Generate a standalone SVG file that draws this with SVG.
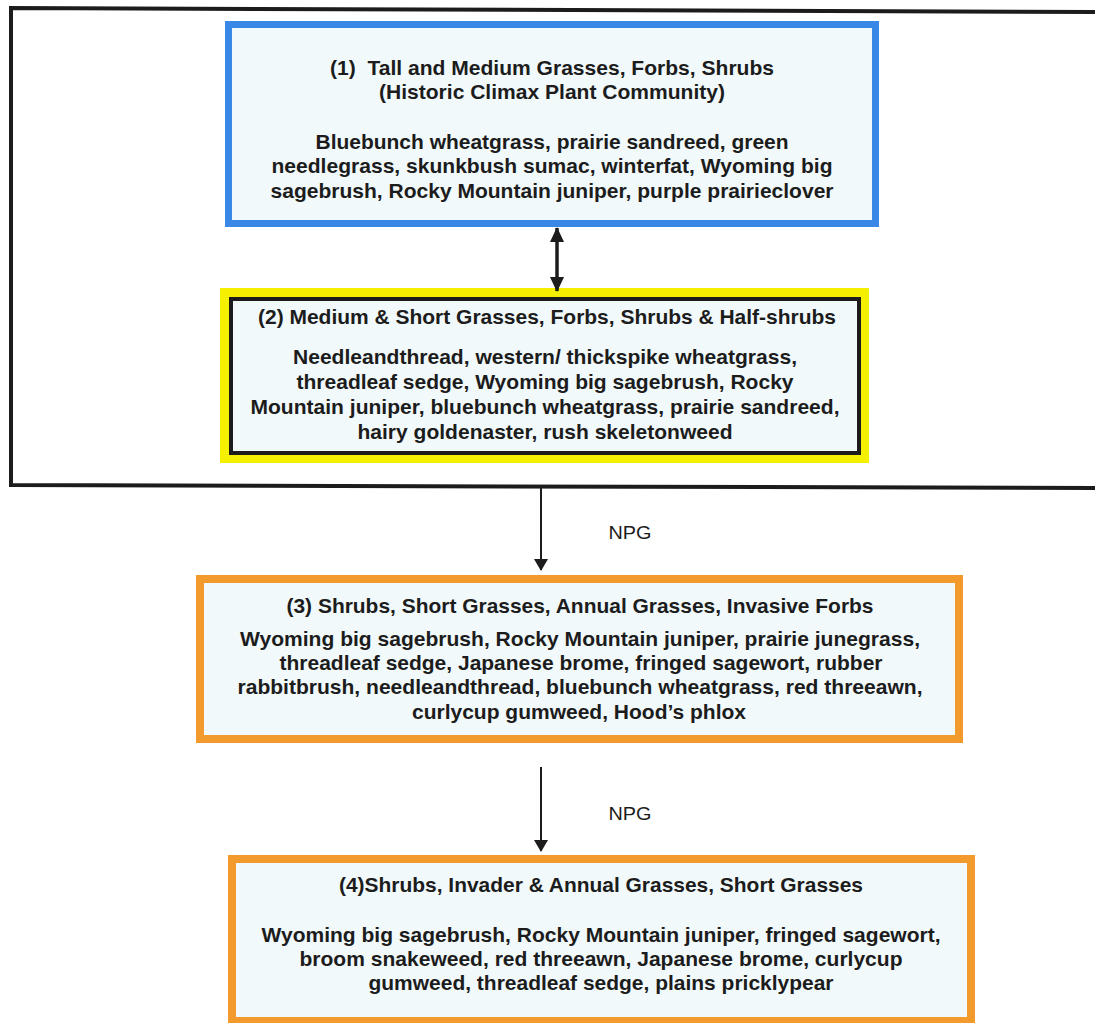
<svg xmlns="http://www.w3.org/2000/svg" width="1095" height="1023" viewBox="0 0 1095 1023">
<style>
.t{font-family:"Liberation Sans",Arial,sans-serif;font-weight:bold;font-size:20.5px;fill:#1c1c1c;text-anchor:middle}
.lbl{font-family:"Liberation Sans",Arial,sans-serif;font-size:18.5px;fill:#1c1c1c;text-anchor:middle}
.fill{fill:#f1f9fb}
.conn{stroke:#1c1c1c;fill:none}
</style>
<defs>
<marker id="ah" viewBox="0 0 12 14" refX="11" refY="7" markerWidth="12" markerHeight="14" markerUnits="userSpaceOnUse" orient="auto-start-reverse">
<path d="M0,0 L12,7 L0,14 Z" fill="#1c1c1c"/>
</marker>
<marker id="ah2" viewBox="0 0 15 14" refX="14" refY="7" markerWidth="15" markerHeight="14" markerUnits="userSpaceOnUse" orient="auto-start-reverse">
<path d="M0,0 L15,7 L0,14 Z" fill="#1c1c1c"/>
</marker>
</defs>
<rect width="1095" height="1023" fill="#ffffff"/>
<g id="frame">
<path d="M1095,12 L11,8 L11,485 L1095,488" fill="none" stroke="#1c1c1c" stroke-width="4"/>
</g>
<g id="node1">
<rect x="228.5" y="24.5" width="647" height="199" class="fill" stroke="#3a88e6" stroke-width="7"/>
<text class="t" x="552" y="75" textLength="444" lengthAdjust="spacingAndGlyphs" xml:space="preserve">(1)  Tall and Medium Grasses, Forbs, Shrubs</text>
<text class="t" x="552" y="99" textLength="346" lengthAdjust="spacingAndGlyphs">(Historic Climax Plant Community)</text>
<text class="t" x="552" y="149" textLength="473" lengthAdjust="spacingAndGlyphs">Bluebunch wheatgrass, prairie sandreed, green</text>
<text class="t" x="552" y="173" textLength="561" lengthAdjust="spacingAndGlyphs">needlegrass, skunkbush sumac, winterfat, Wyoming big</text>
<text class="t" x="552" y="198" textLength="563" lengthAdjust="spacingAndGlyphs">sagebrush, Rocky Mountain juniper, purple prairieclover</text>
</g>
<g id="node2">
<rect x="220" y="288" width="649" height="175" fill="#f5f000"/>
<rect x="231" y="299" width="628" height="154" class="fill" stroke="#1c1c1c" stroke-width="4"/>
<text class="t" x="547" y="324" textLength="578" lengthAdjust="spacingAndGlyphs">(2) Medium &amp; Short Grasses, Forbs, Shrubs &amp; Half-shrubs</text>
<text class="t" x="545" y="364" textLength="504" lengthAdjust="spacingAndGlyphs">Needleandthread, western/ thickspike wheatgrass,</text>
<text class="t" x="545" y="389" textLength="497" lengthAdjust="spacingAndGlyphs">threadleaf sedge, Wyoming big sagebrush, Rocky</text>
<text class="t" x="545" y="414" textLength="589" lengthAdjust="spacingAndGlyphs">Mountain juniper, bluebunch wheatgrass, prairie sandreed,</text>
<text class="t" x="545" y="439" textLength="375" lengthAdjust="spacingAndGlyphs">hairy goldenaster, rush skeletonweed</text>
</g>
<g id="node3">
<rect x="200" y="579" width="759" height="160" class="fill" stroke="#f39a2c" stroke-width="8"/>
<text class="t" x="580" y="613" textLength="587" lengthAdjust="spacingAndGlyphs">(3) Shrubs, Short Grasses, Annual Grasses, Invasive Forbs</text>
<text class="t" x="580" y="646" textLength="680" lengthAdjust="spacingAndGlyphs">Wyoming big sagebrush, Rocky Mountain juniper, prairie junegrass,</text>
<text class="t" x="581" y="670" textLength="603" lengthAdjust="spacingAndGlyphs">threadleaf sedge, Japanese brome, fringed sagewort, rubber</text>
<text class="t" x="580" y="694" textLength="685" lengthAdjust="spacingAndGlyphs">rabbitbrush, needleandthread, bluebunch wheatgrass, red threeawn,</text>
<text class="t" x="579" y="719" textLength="334" lengthAdjust="spacingAndGlyphs">curlycup gumweed, Hood’s phlox</text>
</g>
<g id="node4">
<rect x="232" y="859" width="739" height="162" class="fill" stroke="#f39a2c" stroke-width="8"/>
<text class="t" x="601" y="892" textLength="524" lengthAdjust="spacingAndGlyphs">(4)Shrubs, Invader &amp; Annual Grasses, Short Grasses</text>
<text class="t" x="601" y="942" textLength="679" lengthAdjust="spacingAndGlyphs">Wyoming big sagebrush, Rocky Mountain juniper, fringed sagewort,</text>
<text class="t" x="601" y="966" textLength="603" lengthAdjust="spacingAndGlyphs">broom snakeweed, red threeawn, Japanese brome, curlycup</text>
<text class="t" x="601" y="990" textLength="465" lengthAdjust="spacingAndGlyphs">gumweed, threadleaf sedge, plains pricklypear</text>
</g>
<g id="connectors">
<line class="conn" x1="557" y1="228" x2="557" y2="291" stroke-width="3.5" marker-start="url(#ah2)" marker-end="url(#ah2)"/>
<line class="conn" x1="541" y1="487" x2="541" y2="570" stroke-width="2" marker-end="url(#ah)"/>
<line class="conn" x1="541" y1="767" x2="541" y2="851" stroke-width="2" marker-end="url(#ah)"/>
<text class="lbl" x="630" y="539" textLength="43" lengthAdjust="spacingAndGlyphs">NPG</text>
<text class="lbl" x="630" y="820" textLength="43" lengthAdjust="spacingAndGlyphs">NPG</text>
</g>
</svg>
